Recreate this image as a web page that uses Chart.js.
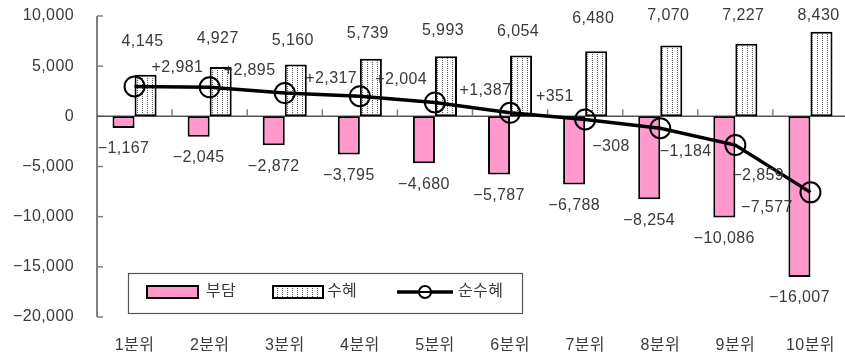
<!DOCTYPE html>
<html><head><meta charset="utf-8">
<script src="https://cdn.jsdelivr.net/npm/chart.js@4/dist/chart.umd.min.js"></script>
<style>
html,body{margin:0;padding:0;overflow:hidden;background:#fff;width:845px;height:358px}
#wrap{width:860px;height:358px;position:relative}
</style>
</head><body><div id="wrap"><canvas id="c" width="860" height="358"></canvas></div>
<script>
const categories = ['1분위','2분위','3분위','4분위','5분위','6분위','7분위','8분위','9분위','10분위'];
const burden  = [-1167,-2045,-2872,-3795,-4680,-5787,-6788,-8254,-10086,-16007];
const benefit = [4145,4927,5160,5739,5993,6054,6480,7070,7227,8430];
const net     = [2981,2895,2317,2004,1387,351,-308,-1184,-2859,-7577];
const yTicks  = [10000,5000,0,-5000,-10000,-15000,-20000];
const seriesNames = ['부담','수혜','순수혜'];

const FONT = "'Liberation Sans','Noto Sans CJK KR',sans-serif";
const TXT = '#3a3a3a';
const fmt = v => (v < 0 ? '\u2212' : '') + Math.abs(v).toLocaleString('en-US');
const fmtSigned = v => (v < 0 ? '\u2212' : '+') + Math.abs(v).toLocaleString('en-US');

// dotted pattern
const pc = document.createElement('canvas');
pc.width = 5; pc.height = 2;
const pctx = pc.getContext('2d');
pctx.fillStyle = '#fff'; pctx.fillRect(0,0,5,2);
pctx.fillStyle = '#555'; pctx.fillRect(2,0,1,1);
const dotted = document.getElementById('c').getContext('2d').createPattern(pc,'repeat');

const PINK = '#FF99CC';

const axesPlugin = {
  id: 'axesPlugin',
  beforeDraw(chart){ chart.ctx.letterSpacing = '0.4px'; },
  beforeDatasetsDraw(chart){
    const {ctx, chartArea:a, scales:{x,y}} = chart;
    ctx.save();
    ctx.strokeStyle = '#808080';
    ctx.lineWidth = 2;
    ctx.beginPath();
    ctx.moveTo(a.left, y.getPixelForValue(yTicks[0]));
    ctx.lineTo(a.left, y.getPixelForValue(yTicks[yTicks.length-1]));
    ctx.stroke();
    ctx.lineWidth = 1.5;
    yTicks.forEach(t=>{
      const py = y.getPixelForValue(t);
      ctx.beginPath(); ctx.moveTo(a.left, py); ctx.lineTo(a.left+6, py); ctx.stroke();
    });
    const y0 = y.getPixelForValue(0);
    ctx.strokeStyle = '#555';
    ctx.beginPath(); ctx.moveTo(a.left, y0); ctx.lineTo(a.right, y0); ctx.stroke();
    ctx.strokeStyle = '#808080';
    const cw = (a.right - a.left)/categories.length;
    for (let i=1;i<=categories.length;i++){
      const px = a.left + i*cw;
      ctx.beginPath(); ctx.moveTo(px, y0); ctx.lineTo(px, y0-7); ctx.stroke();
    }
    ctx.restore();
  }
};

const labelPlugin = {
  id: 'labelPlugin',
  afterDatasetsDraw(chart, args, opts){
    const ctx = chart.ctx;
    ctx.save();
    ctx.font = '16px ' + FONT;
    ctx.fillStyle = TXT;
    ctx.textBaseline = 'middle';
    const mB = chart.getDatasetMeta(0), mS = chart.getDatasetMeta(1), mN = chart.getDatasetMeta(2);
    ctx.textAlign = 'center';
    mB.data.forEach((b,i)=>{ ctx.fillText(fmt(burden[i]), b.x, b.y + 21); });
    mS.data.forEach((b,i)=>{ ctx.fillText(fmt(benefit[i]), b.x - 3, b.y + opts.benefitDy[i]); });
    ctx.textAlign = 'left';
    mN.data.forEach((p,i)=>{ const o = opts.netOff[i]; ctx.fillText(fmtSigned(net[i]), p.x + o[0], p.y + o[1]); });
    ctx.restore();
  }
};

const legendPlugin = {
  id: 'legendPlugin',
  afterDraw(chart){
    const ctx = chart.ctx;
    ctx.save();
    ctx.fillStyle = '#fff';
    ctx.strokeStyle = '#555'; ctx.lineWidth = 1.2;
    ctx.fillRect(128.5,273.5,394,40);
    ctx.strokeRect(128.5,273.5,394,40);
    const cy = 292;
    ctx.lineWidth = 2; ctx.strokeStyle = '#000';
    ctx.fillStyle = PINK; ctx.fillRect(147,286,51,12); ctx.strokeRect(147,286,51,12);
    ctx.fillStyle = dotted; ctx.fillRect(273,286,50,12); ctx.strokeRect(273,286,50,12);
    ctx.lineWidth = 3.5;
    ctx.beginPath(); ctx.moveTo(397,cy); ctx.lineTo(453,cy); ctx.stroke();
    ctx.lineWidth = 2; ctx.fillStyle='#fff';
    ctx.beginPath(); ctx.arc(425,cy,6,0,Math.PI*2); ctx.fill(); ctx.stroke();
    ctx.beginPath(); ctx.moveTo(419,cy); ctx.lineTo(431,cy); ctx.stroke();
    ctx.font = '16px ' + FONT; ctx.fillStyle = TXT; ctx.textBaseline='middle'; ctx.textAlign='left';
    ctx.fillText(seriesNames[0], 206, cy);
    ctx.fillText(seriesNames[1], 327, cy);
    ctx.fillText(seriesNames[2], 458, cy);
    ctx.restore();
  }
};

new Chart(document.getElementById('c'), {
  type: 'bar',
  data: {
    labels: categories,
    datasets: [
      {type:'bar', label: seriesNames[0], data: burden, backgroundColor: PINK, borderColor:'#000', borderWidth:2, borderSkipped:false, order:1, categoryPercentage:0.587, barPercentage:1},
      {type:'bar', label: seriesNames[1], data: benefit, backgroundColor: dotted, borderColor:'#000', borderWidth:2, borderSkipped:false, order:2, categoryPercentage:0.587, barPercentage:1},
      {type:'line', label: seriesNames[2], data: net, borderColor:'#000', borderWidth:3.5, tension:0, pointRadius:10, pointBorderWidth:2, pointBorderColor:'#000', pointBackgroundColor:'rgba(0,0,0,0)', order:0}
    ]
  },
  options: {
    responsive:false, animation:false,
    layout:{padding:{top:16,right:3,left:0,bottom:0}},
    plugins:{
      legend:{display:false}, tooltip:{enabled:false},
      labelPlugin:{
        benefitDy:[-33,-28,-24,-25,-26,-24,-33,-30,-28,-16],
        netOff:[[17,-18.5],[14,-16.5],[20.5,-14],[15.5,-16.5],[24.5,-11.6],[26,-16.5],[7,27.4],[-0.5,23],[-3,31],[-69.5,15.7]]
      }
    },
    scales:{
      x:{grid:{display:false,drawTicks:false}, border:{display:false},
         ticks:{font:{size:16,family:FONT}, color:TXT, padding:19, maxRotation:0},
         afterFit(s){ s.height = 41; s.paddingLeft = 0; s.paddingRight = 0; }},
      y:{min:-20000,max:10000, grid:{display:false,drawTicks:false}, border:{display:false},
         afterBuildTicks(s){ s.ticks = yTicks.map(v=>({value:v})); },
         ticks:{font:{size:16,family:FONT}, color:TXT, padding:23, callback:v=>fmt(v)},
         afterFit(s){ s.width = 97; s.paddingTop = 0; s.paddingBottom = 0; }}
    }
  },
  plugins:[axesPlugin,labelPlugin,legendPlugin]
});
</script></body></html>
